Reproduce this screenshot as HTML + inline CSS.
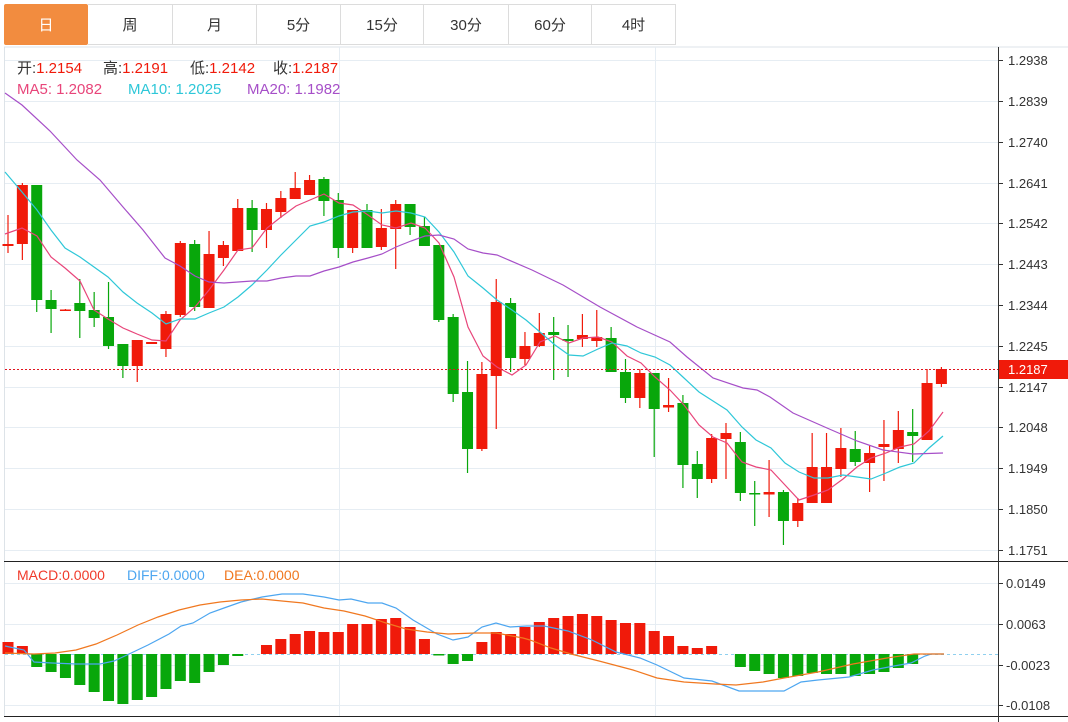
<!DOCTYPE html>
<html><head><meta charset="utf-8">
<style>
html,body{margin:0;padding:0;background:#fff;width:1068px;height:722px;overflow:hidden;font-family:"Liberation Sans","Noto Sans CJK SC",sans-serif;}
.tabs{position:absolute;left:4px;top:4px;height:42px;}
.tab{position:absolute;top:0;height:41px;border:1px solid #dcdcdc;border-left:none;line-height:41px;text-align:center;font-size:15px;color:#333;box-sizing:border-box;}
</style></head><body>
<div class="tabs">
<div class="tab" style="left:0;width:84px;background:#f28c3f;color:#fff;border:1px solid #f28c3f;border-radius:2px;">日</div>
<div class="tab" style="left:84px;width:85px;">周</div>
<div class="tab" style="left:169px;width:84px;">月</div>
<div class="tab" style="left:253px;width:84px;">5分</div>
<div class="tab" style="left:337px;width:83px;">15分</div>
<div class="tab" style="left:420px;width:85px;">30分</div>
<div class="tab" style="left:505px;width:83px;">60分</div>
<div class="tab" style="left:588px;width:84px;">4时</div>
</div>
<svg id="s" width="1068" height="722" style="position:absolute;left:0;top:0" xmlns="http://www.w3.org/2000/svg" font-family="Liberation Sans, Noto Sans CJK SC, sans-serif"></svg>
<script>
var s=document.getElementById('s');var h='';
function L(x1,y1,x2,y2,c,w,d){h+='<line x1="'+x1+'" y1="'+y1+'" x2="'+x2+'" y2="'+y2+'" stroke="'+c+'" stroke-width="'+(w||1)+'"'+(d?' stroke-dasharray="'+d+'"':'')+'/>';}
function T(x,y,t,c,sz,a){h+='<text x="'+x+'" y="'+y+'" fill="'+c+'" font-size="'+(sz||13)+'"'+(a?' text-anchor="'+a+'"':'')+'>'+t+'</text>';}
function P(pts,c,w){h+='<polyline fill="none" stroke="'+c+'" stroke-width="'+(w||1.2)+'" points="'+pts+'"/>';}
L(4,47,1068,47,'#dde3e8');L(4.5,47,4.5,717,'#dde3e8');
var py=[60,101,142,183,223,264,305,346,387,427,468,509,550];
var pl=['1.2938','1.2839','1.2740','1.2641','1.2542','1.2443','1.2344','1.2245','1.2147','1.2048','1.1949','1.1850','1.1751'];
py.forEach(function(y,i){L(5,y+.5,998,y+.5,'#e6edf3');L(998,y+.5,1003,y+.5,'#333');T(1008,y+5,pl[i],'#333',13);});
var my=[583,624,665,705],ml=['0.0149','0.0063','-0.0023','-0.0108'];
my.forEach(function(y,i){L(5,y+.5,998,y+.5,'#e6edf3');L(998,y+.5,1003,y+.5,'#333');T(1006,y+5,ml[i],'#333',13);});
L(339.5,47,339.5,717,'#e6edf3');L(655.5,47,655.5,717,'#e6edf3');
var C=[['r',244,246,215,253],['r',185,244,183,260],['g',185,300,185,312],['g',300,309,290,333],['r',309.5,311,309,311],['g',303,311,279,338],['g',310,318,292,327],['g',317,346,282,349],['g',344,366,344,378],['r',340,366,340,382],['r',342,344,342,344],['r',314,349,311,357],['r',243,315,241,317],['g',244,307,240,311],['r',254,308,231,308],['r',245,258,241,266],['r',208,251,199,251],['g',208,230,200,252],['r',209,230,203,248],['r',198,212,191,218],['r',188,199,172,199],['r',180,195,175,195],['g',179,201,177,216],['g',200,248,193,258],['r',210,248,210,253],['g',210,248,204,248],['r',228,247,209,250],['r',204,229,200,269],['g',204,227,204,235],['g',226,246,217,246],['g',245,320,245,322],['g',317,394,314,402],['g',392,449,361,473],['r',374,449,362,451],['r',302,376,279,429],
['g',303,358,298,372],['r',346,359,332,365],['r',333,346,313,347],['g',332,335,317,380],['g',339,341,325,377],['r',335,339,314,347],['r',337,341,310,347],['g',338,372,327,372],['g',372,398,359,403],['r',373,398,369,408],['g',373,409,373,457],['r',405,407.5,378,412],['g',403,465,395,488],['g',464,479,451,498],['r',438,479,434,483],['r',433,439,423,479],['g',442,493,432,501],['g',493,494.5,481,526],['r',492,494.5,460,517],['g',492,521,490,545],['r',503,521,498,527],['r',467,503,433,503],['r',467,503,433,503],['r',448,469,428,477],['g',449,462,431,466],['r',453,463,445,492],['r',444,447,420,481],['r',430,449,411,463],['g',432,436,409,462],['r',383,440,369,440],['r',369,384,367,387]];
C.forEach(function(c,i){var x=8+14.36*i,col=c[0]=='r'?'#f01a0a':'#08a70b';
L(x,c[3],x,c[4],col,1.2);h+='<rect x="'+(x-5.5)+'" y="'+c[1]+'" width="11" height="'+Math.max(1.5,c[2]-c[1])+'" fill="'+col+'"/>';});
P('5,234 22,228 37,236 51,257 65,268 80,281 94,310 108,319 123,328 137,334 152,340 166,341 180,320 195,307 209,290 224,270 238,250 252,248 267,228 281,217 296,206 310,200 324,194 339,203 353,205 368,215 382,225 396,228 411,223 425,228 439,243 454,277 468,327 483,356 497,367 512,375 526,365 540,342 555,336 569,343 583,338 598,337 612,342 627,356 641,363 655,377 670,390 684,405 699,425 713,437 727,443 742,462 756,467 771,470 785,485 799,500 814,495 828,490 843,479 857,467 871,458 886,453 900,447 914,444 929,431 943,412','#e8457a');
P('5,172 22,192 37,210 51,230 65,248 80,257 94,267 108,277 123,292 137,303 152,313 166,324 180,319 195,319 209,313 224,307 238,297 252,285 267,270 281,255 296,240 310,226 324,222 339,216 353,212 368,211 382,213 396,211 411,213 425,217 439,232 454,252 468,276 483,288 497,300 512,310 526,320 540,332 555,345 569,355 583,356 598,349 612,343 627,346 641,353 655,357 670,365 684,378 699,392 713,401 727,410 742,427 756,440 771,448 785,463 799,472 814,478 828,478 843,475 857,477 871,479 886,473 900,467 914,463 929,448 943,436','#2ec7d8');
P('5,93 22,105 50,131 77,160 100,180 123,207 143,230 165,258 180,266 195,276 209,282 224,283 238,282 252,281 267,281 281,278 296,276 310,276 324,271 339,267 353,262 368,258 382,254 396,247 411,241 425,236 439,235 454,239 468,249 483,253 497,255 532,270 563,285 600,307 637,327 670,342 687,357 713,378 743,388 757,390 770,397 793,413 827,428 857,441 883,450 913,454 943,453','#a64fc8');
L(5,369.5,998,369.5,'#e0141e',1,'2,2');
h+='<rect x="998" y="360" width="70" height="19" fill="#f01a0a"/>';T(1008,374,'1.2187','#fff',13);
L(5,654.5,998,654.5,'#8fd0ef',1,'3,3');
var M=[642,646,667,672,678,685,692,701,704,700,697,689,681,683,672,665,656,0,645,639,634,631,632,632,624,624,619,618,627,639,655.5,664,661,642,632,634,627,622,618,616,614,616,620,623,623,631,636,646,648,646,0,667,671,674,678,676,673,674,674,676,674,672,668,664,0,0];
M.forEach(function(v,i){if(!v)return;var x=8+14.36*i;var col=v<654?'#f01a0a':'#08a70b';var y1=Math.min(v,654),y2=Math.max(v,654);h+='<rect x="'+(x-5.5)+'" y="'+y1+'" width="11" height="'+Math.max(1.5,y2-y1)+'" fill="'+col+'"/>';});
P('5,646 24,650 34,662 52,663 76,664 100,664 114,661 127,655 148,645 169,634 181,626 193,623 210,613 224,608 241,602 262,597 282,594 303,594 324,597 339,600 351,599 368,603 382,603 396,608 413,620 437,634 453,640 468,637 482,627 496,623 510,627 527,626 544,626 568,631 592,640 616,652 640,658 657,665 684,678 712,681 739,691 784,691 801,682 818,680 849,677 873,670 894,666 911,663 925,656 931,654 944,654','#4da6f0');
P('5,653 34,654 55,653 76,650 96,644 117,635 138,625 158,617 179,610 200,605 220,602 241,600 262,599 282,601 303,603 324,608 344,611 365,616 386,623 406,629 427,632 448,634 475,633 496,633 523,638 530,640 551,648 571,654 599,661 633,670 657,678 684,682 715,684 736,685 763,682 784,678 818,672 853,664 887,658 914,654 944,654','#f07820');
L(4,561.5,1068,561.5,'#222');L(4,716.5,1068,716.5,'#222');L(998.5,47,998.5,722,'#333');
function KV(x,k,v){h+='<text x="'+x+'" y="73" font-size="15"><tspan fill="#333">'+k+'</tspan><tspan fill="#f01a0a">'+v+'</tspan></text>';}
KV(17,'开:','1.2154');KV(103,'高:','1.2191');KV(190,'低:','1.2142');KV(273,'收:','1.2187');
T(17,94,'MA5: 1.2082','#e8457a',15);T(128,94,'MA10: 1.2025','#2ec7d8',15);T(247,94,'MA20: 1.1982','#a64fc8',15);
T(17,580,'MACD:0.0000','#f03a2a',14);T(127,580,'DIFF:0.0000','#4da6f0',14);T(224,580,'DEA:0.0000','#f07820',14);
s.innerHTML=h;
</script>
</body></html>
